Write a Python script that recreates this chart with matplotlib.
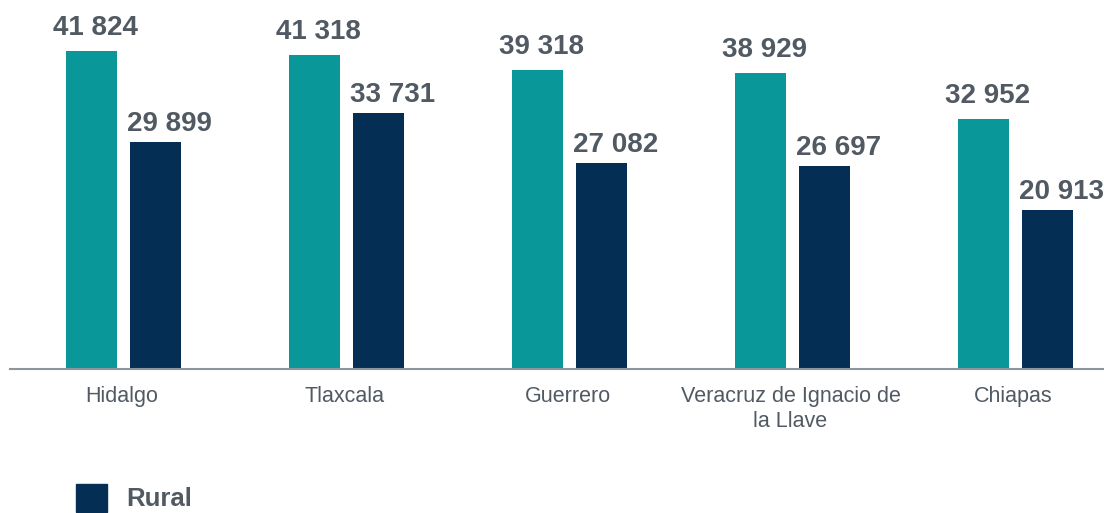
import numpy as np
import matplotlib.pyplot as plt
from matplotlib.patches import Patch

plt.rcParams['font.family'] = ['Liberation Sans', 'DejaVu Sans']

# Data
estados = ["Hidalgo", "Tlaxcala", "Guerrero", "Veracruz de Ignacio de\nla Llave", "Chiapas"]
urbano = [41824, 41318, 39318, 38929, 32952]
rural = [29899, 33731, 27082, 26697, 20913]

teal = "#0a9799"
navy = "#052e55"
gris = "#515a63"

fig = plt.figure(figsize=(11.04, 5.13), dpi=100)
ax = fig.add_axes([10 / 1104, 144 / 513, 1094 / 1104, 369 / 513])

x = np.arange(len(estados))
w = 0.23
b1 = ax.bar(x - 0.134, urbano, w, color=teal, label="Urbano")
b2 = ax.bar(x + 0.152, rural, w, color=navy, label="Rural")

def fmt(v):
    return f"{v:,}".replace(",", " ")

# labels sit a bit right of the bar centre, like the original
for bars, vals, dx, dy in ((b1, urbano, 3, 7), (b2, rural, 10, 3.5)):
    for r, v in zip(bars, vals):
        ax.annotate(fmt(v), (r.get_x() + r.get_width() / 2, v),
                    xytext=(dx, dy), textcoords="offset points",
                    ha="center", va="bottom", fontsize=20,
                    fontweight="bold", color=gris)

ax.set_xlim(-0.5, -0.5 + 1094 / 223)
ax.set_ylim(0, 48550)
ax.set_xticks(x)
ax.set_xticklabels(estados, fontsize=15.5, color=gris, linespacing=1.25)
ax.tick_params(axis="x", length=0, pad=12.5)
ax.set_yticks([])
for s in ("top", "right", "left"):
    ax.spines[s].set_visible(False)
ax.spines["bottom"].set_color("#8c969e")
ax.spines["bottom"].set_linewidth(1.5)

fig.legend(handles=[Patch(color=navy, label="Rural")],
           loc="upper left", bbox_to_anchor=(76 / 1104, 1 - 483.5 / 513),
           borderaxespad=0, borderpad=0,
           frameon=False, handlelength=1.2, handleheight=1.3,
           prop={"size": 18.5, "weight": "bold"}, labelcolor=gris,
           handletextpad=0.75)

fig.savefig("out.png", dpi=100)
